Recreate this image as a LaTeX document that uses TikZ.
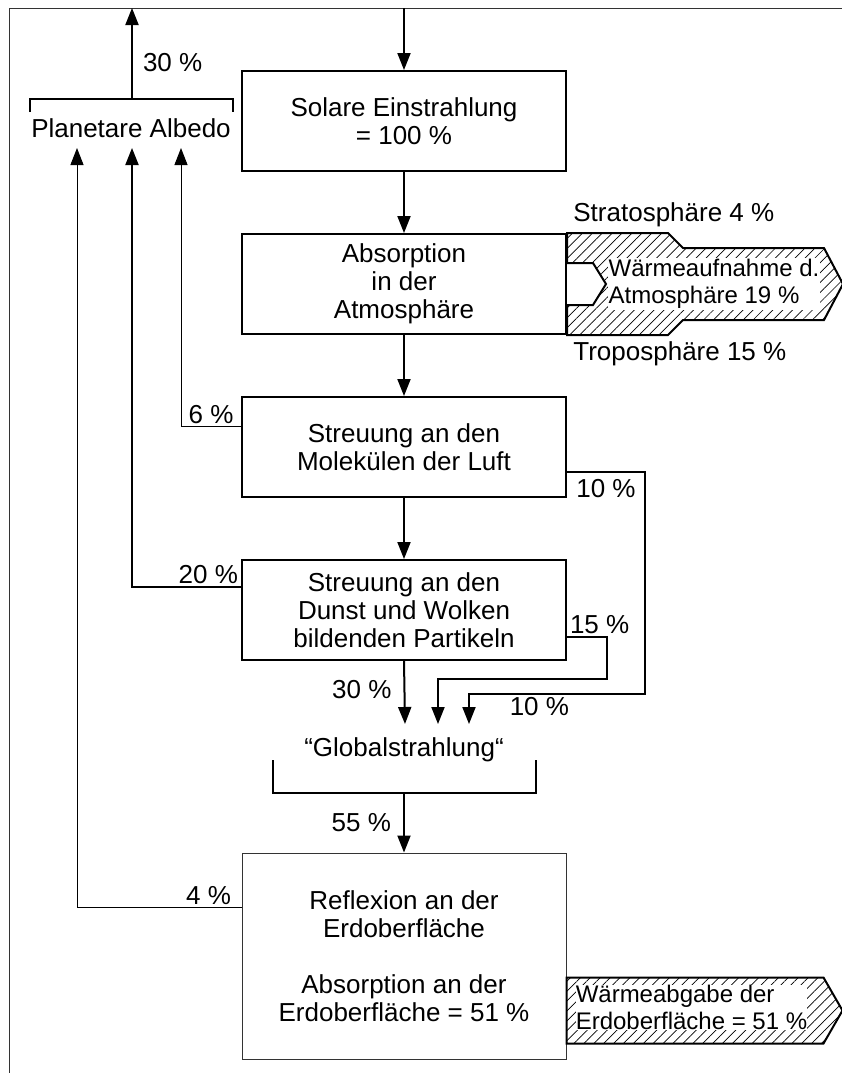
\documentclass[tikz,border=0pt]{standalone}
\usepackage{fontspec}
\setmainfont{Liberation Sans}
\usetikzlibrary{arrows.meta,positioning,patterns.meta}

\begin{document}
\begin{tikzpicture}[
x=0.5pt, y=-0.5pt,
node distance=30.5pt,
box/.style={draw, line width=1pt, minimum width=162pt, minimum height=50pt, align=center, inner sep=0pt, font=\fontsize{13}{14}\selectfont},
lbl/.style={inner sep=1pt, align=center, font=\fontsize{13}{14}\selectfont},
hlbl/.style={fill=white, inner sep=0.5pt, align=left, font=\fontsize{12}{13.5}\selectfont},
arr/.style={-{Triangle[length=8.5pt,width=6.5pt]}, line width=1pt},
thinarr/.style={arr, line width=0.5pt},
hatch/.style={draw, line width=1pt, pattern={Lines[angle=45, distance=3.5pt, line width=0.35pt]}}
]
\useasboundingbox (0,0) rectangle (842,1073);

% frame
\draw[line width=0.5pt, black!80] (9,1073) -- (9,8) -- (842,8);

% main column
\node[box] (sol) at (404,121) {Solare Einstrahlung\\= 100 \%};
\node[box, below=of sol] (abs) {Absorption\\in der\\Atmosphäre};
\node[box, below=of abs] (mol) {Streuung an den\\Molekülen der Luft};
\node[box, below=of mol] (dun) {Streuung an den\\Dunst und Wolken\\bildenden Partikeln};
\node[lbl] (glo) at (404,750) {“Globalstrahlung“};
\node[box, line width=0.5pt, draw=black!80, minimum height=103pt] (ref) at (404,956)
  {Reflexion an der\\Erdoberfläche\\[14pt]Absorption an der\\Erdoberfläche = 51 \%};
\node[lbl] (alb) at (131,128) {Planetare Albedo};

\coordinate (sun) at (404,8);
\coordinate (space) at (132,8);
\coordinate (ab) at (132,99);
\coordinate (gb) at (404,793);
\coordinate (g30) at (405,724);
\coordinate (g15) at (438,724);
\coordinate (g10) at (469,724);
\coordinate (a4) at (77,148);
\coordinate (a20) at (132,148);
\coordinate (a6) at (181,148);

% brackets
\draw[line width=1pt] (30,112) -- (30,99) -- (233,99) -- (233,112);
\draw[line width=1pt] (273,760) -- (273,793) -- (536,793) -- (536,760);

% heat uptake of the atmosphere
\draw[hatch] (abs.north east) -- ++(101,0) -- ++(15,15) -- ++(141,0) -- ++(19,36)
  -- ++(-19,36) -- ++(-141,0) -- ++(-15,15) -- (abs.south east) -- cycle;
\draw[line width=1pt, fill=white] ([yshift=10.5pt]abs.east) -- ++(26,0) -- ++(13,21)
  -- ++(-13,21) -- ++(-26,0);
\node[hlbl] (wauf) at ([xshift=73.5pt]abs.east) {Wärmeaufnahme d.\\Atmosphäre 19 \%};
\node[lbl, anchor=south west] (strat) at ([xshift=2pt,yshift=2pt]abs.north east) {Stratosphäre 4 \%};
\node[lbl, anchor=north west] (trop) at ([xshift=2pt,yshift=-2pt]abs.south east) {Troposphäre 15 \%};

% heat release of the surface
\draw[hatch] ([yshift=8pt]ref.south east) -- ++(0,-66) -- ++(257,0) -- ++(19,33)
  -- ++(-19,33) -- cycle;
\node[hlbl, inner sep=0pt] (wabg) at ([xshift=62.5pt,yshift=26pt]ref.south east)
  {Wärmeabgabe der\\Erdoberfläche = 51 \%};

% arrows
\draw[arr] (sun) -- (sol);
\draw[arr] (sol) -- (abs);
\draw[arr] (abs) -- (mol);
\draw[arr] (mol) -- (dun);
\draw[arr] (dun.south) -- node[lbl, pos=0.45, left=5pt]{30 \%} (g30);
\draw[arr] ([yshift=12pt]dun.south east) -| node[lbl, pos=0, above right]{15 \%} (607,679) -| (g15);
\draw[arr] ([yshift=13pt]mol.south east) -| node[lbl, pos=0.25, below=2pt]{10 \%} (645,694)
  -| node[lbl, pos=0.3, below]{10 \%} (g10);
\draw[arr] (gb) -- node[lbl, left=5pt]{55 \%} (ref);
\draw[arr] (ab) -- node[lbl, pos=0.4, right=4pt]{30 \%} (space);

\draw[thinarr] ([yshift=-15pt]mol.north west) -| node[lbl, pos=0.25, above]{6 \%} (a6);
\draw[arr] ([yshift=-14pt]dun.north west) -| node[lbl, pos=0.15, above]{20 \%} (a20);
\draw[thinarr] ([yshift=-27.5pt]ref.north west) -| node[lbl, pos=0.1, above]{4 \%} (a4);
\end{tikzpicture}
\end{document}
